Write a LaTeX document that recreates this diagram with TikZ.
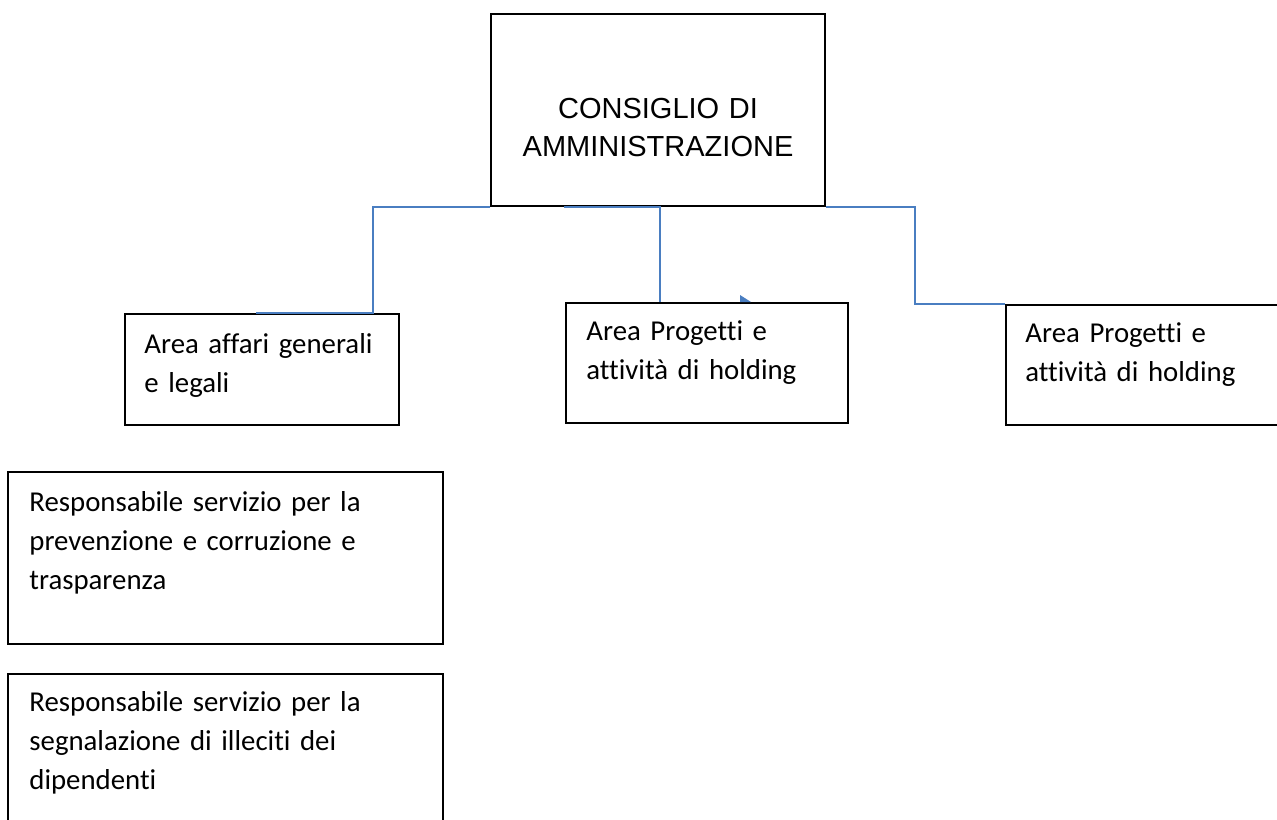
\documentclass[tikz,border=0pt]{standalone}
\usepackage{fontspec}
\setmainfont{Carlito}[Ligatures={NoCommon}, WordSpace=0.85]
\newfontfamily\arialfont{Liberation Sans}
\usetikzlibrary{positioning}
\definecolor{linkblue}{RGB}{74,126,193}

\begin{document}
\begin{tikzpicture}[x=0.5pt, y=-0.5pt,
    box/.style={draw, line width=1pt, inner sep=0pt},
    txt/.style={anchor=base west, inner sep=0pt, align=left, font=\fontsize{14.4}{19.5}\selectfont},
    link/.style={draw=linkblue, line width=0.75pt}]
    % page
    \clip (0,0) rectangle (1277,819);
    \fill[white] (0,0) rectangle (1277,819);
    % Board
    \node[box, minimum width=167pt, minimum height=96pt] (cda) at (658,110) {};
    \node[inner sep=0pt, anchor=base, text width=165pt, align=center,
          font=\arialfont\fontsize{14.5}{19.2}\selectfont] (cdaTxt) at (658,118)
          {CONSIGLIO DI\\AMMINISTRAZIONE};
    % Areas
    \node[box, minimum width=137pt, minimum height=55.5pt] (areaAffari) at (262,369.5) {};
    \node[txt, text width=125pt] (areaAffariTxt) at ([shift={(20,40)}]areaAffari.north west)
          {Area affari generali\\e legali};
    \node[box, minimum width=141pt, minimum height=60pt] (areaProg) at (707,363) {};
    \node[txt, text width=125pt] (areaProgTxt) at ([shift={(21,38)}]areaProg.north west)
          {Area Progetti e\\attività di holding};
    \node[box, minimum width=141pt, minimum height=60pt] (areaHold) at (1147,365) {};
    \node[txt, text width=125pt] (areaHoldTxt) at ([shift={(20,38)}]areaHold.north west)
          {Area Progetti e\\attività di holding};
    % Responsabili
    \node[box, minimum width=217.5pt, minimum height=86pt] (rpct) at (225.5,558) {};
    \node[txt, text width=200pt] (rpctTxt) at ([shift={(22,40)}]rpct.north west)
          {Responsabile servizio per la\\prevenzione e corruzione e\\trasparenza};
    \node[box, minimum width=217.5pt, minimum height=86pt] (whistle) at (225.5,760) {};
    \node[txt, text width=200pt] (whistleTxt) at ([shift={(22,38)}]whistle.north west)
          {Responsabile servizio per la\\segnalazione di illeciti dei\\dipendenti};
    % Connectors
    \draw[link] (cda.south west) -| ([shift={(249,0)}]areaAffari.north west)
          -- ([shift={(132,0)}]areaAffari.north west);
    \draw[link] ([shift={(74,0)}]cda.south west) -| ([shift={(95,0)}]areaProg.north west);
    \draw[link] (cda.south east) -- ++(89,0) |- (areaHold.north west);
    \fill[linkblue] ([shift={(175,-7)}]areaProg.north west) -- ([shift={(186,0)}]areaProg.north west)
          -- ([shift={(175,0)}]areaProg.north west) -- cycle;
\end{tikzpicture}
\end{document}
